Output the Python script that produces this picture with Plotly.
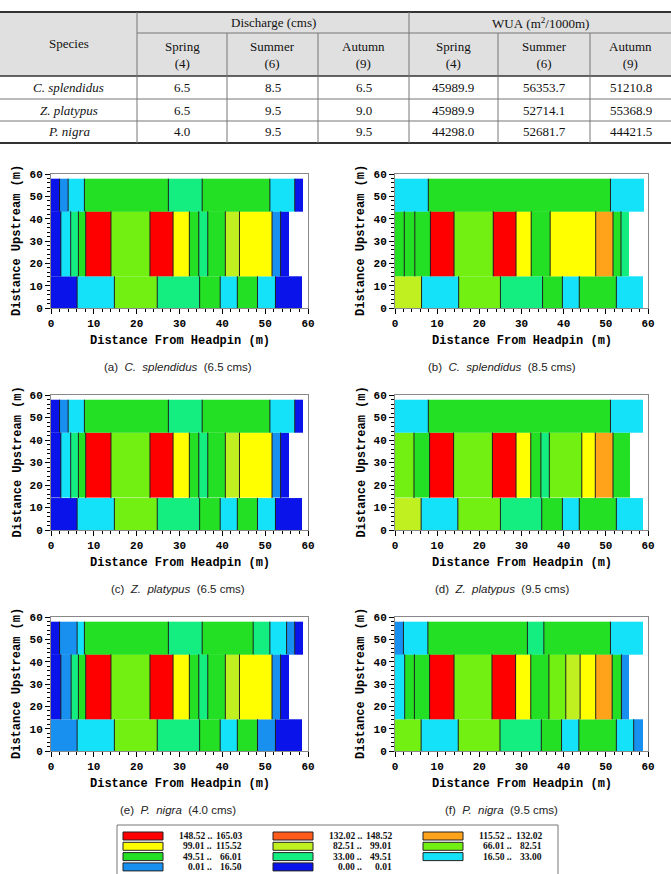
import plotly.graph_objects as go

W, H = 671, 874


def px(x):
    return x / W


def py(y):
    return 1 - y / H


# ---------------- table data ----------------
species = ["C. splendidus", "Z. platypus", "P. nigra"]
seasons = ["Spring", "Summer", "Autumn"]
months = ["(4)", "(6)", "(9)"]
discharge = [[6.5, 8.5, 6.5], [6.5, 9.5, 9.0], [4.0, 9.5, 9.5]]
wua = [[45989.9, 56353.7, 51210.8], [45989.9, 52714.1, 55368.9], [44298.0, 52681.7, 44421.5]]

# ---------------- legend classes (index 0 = lowest) ----------------
class_lo = ["0.00", "0.01", "16.50", "33.00", "49.51", "66.01", "82.51", "99.01", "115.52", "132.02", "148.52"]
class_hi = ["0.01", "16.50", "33.00", "49.51", "66.01", "82.51", "99.01", "115.52", "132.02", "148.52", "165.03"]
class_colors = ["#0a14ea", "#1890f0", "#14e2f8", "#14ee80", "#24e024", "#72f012",
                "#c0f020", "#ffff00", "#ffa31a", "#ff5b1c", "#ff0000"]

# ---------------- cross-section bands (y, m) ----------------
band_y = [0, 14.2, 43.3, 57.9]

# panel (a) C. splendidus 6.5 cms
a_bot_x = [0, 6.1, 14.8, 24.8, 34.7, 39.5, 43.5, 48.2, 52.4, 58.7]
a_bot_c = [0, 2, 5, 3, 4, 2, 4, 2, 0]
a_mid_x = [0, 2.3, 4.6, 6.4, 8.1, 14.0, 23.1, 28.5, 32.3, 34.5, 36.6, 40.7, 44.0, 51.6, 53.6, 55.6]
a_mid_c = [0, 2, 3, 4, 10, 5, 10, 7, 4, 3, 4, 6, 7, 1, 0]
a_top_x = [0, 2.0, 4.0, 7.8, 27.4, 35.3, 51.1, 56.9, 58.9]
a_top_c = [0, 1, 2, 4, 3, 4, 2, 0]

# panel (b) C. splendidus 8.5 cms
b_bot_x = [0, 6.3, 15.1, 25.0, 35.0, 39.7, 43.7, 52.5, 58.8]
b_bot_c = [6, 2, 5, 3, 4, 2, 4, 2]
b_mid_x = [0, 2.2, 4.7, 8.4, 14.0, 23.3, 28.7, 32.3, 36.8, 47.6, 51.7, 53.6, 55.6]
b_mid_c = [4, 4, 4, 10, 5, 10, 7, 4, 7, 8, 4, 3]
b_top_x = [0, 7.9, 51.1, 59.0]
b_top_c = [2, 4, 2]

# panel (c) Z. platypus 6.5 cms
c_bot_x = [0, 6.1, 14.8, 24.8, 34.7, 39.5, 43.5, 48.2, 52.4, 58.7]
c_bot_c = [0, 2, 5, 3, 4, 2, 4, 2, 0]
c_mid_x = [0, 2.3, 4.6, 6.4, 8.1, 14.0, 23.1, 28.5, 32.3, 34.5, 36.6, 40.7, 44.0, 51.6, 53.6, 55.6]
c_mid_c = [0, 2, 3, 4, 10, 5, 10, 7, 4, 3, 4, 6, 7, 1, 0]
c_top_x = [0, 2.0, 4.0, 7.8, 27.4, 35.3, 51.1, 56.9, 58.9]
c_top_c = [0, 1, 2, 4, 3, 4, 2, 0]

# panel (d) Z. platypus 9.5 cms
d_bot_x = [0, 6.2, 14.9, 25.0, 34.8, 39.7, 43.7, 52.5, 58.8]
d_bot_c = [6, 2, 5, 3, 4, 2, 4, 2]
d_mid_x = [0, 4.5, 8.2, 13.9, 23.1, 28.7, 32.2, 34.6, 36.6, 44.3, 47.5, 51.7, 55.7]
d_mid_c = [5, 4, 10, 5, 10, 7, 4, 3, 5, 7, 8, 4]
d_top_x = [0, 7.9, 51.1, 58.8]
d_top_c = [2, 4, 2]

# panel (e) P. nigra 4.0 cms
e_bot_x = [0, 6.1, 14.8, 24.8, 34.7, 39.5, 43.5, 48.2, 52.4, 58.7]
e_bot_c = [1, 2, 5, 3, 4, 2, 4, 1, 0]
e_mid_x = [0, 2.3, 4.7, 6.4, 8.1, 14.0, 23.1, 28.5, 32.3, 34.5, 36.6, 40.7, 44.0, 51.6, 53.6, 55.6]
e_mid_c = [0, 1, 3, 4, 10, 5, 10, 7, 4, 3, 4, 6, 7, 1, 0]
e_top_x = [0, 2.0, 6.1, 7.8, 27.4, 35.3, 47.2, 51.1, 55.0, 56.9, 58.9]
e_top_c = [0, 1, 2, 4, 3, 4, 3, 2, 1, 0]

# panel (f) P. nigra 9.5 cms
f_bot_x = [0, 6.2, 15.0, 24.9, 34.7, 39.5, 43.6, 52.5, 56.6, 58.8]
f_bot_c = [5, 2, 5, 3, 4, 2, 4, 2, 1]
f_mid_x = [0, 2.3, 4.6, 8.2, 14.0, 23.0, 28.6, 32.2, 36.5, 40.5, 43.9, 47.6, 51.5, 53.7, 55.6]
f_mid_c = [2, 4, 4, 10, 5, 10, 7, 4, 5, 6, 7, 8, 4, 1]
f_top_x = [0, 2.0, 7.8, 31.4, 35.3, 51.1, 58.8]
f_top_c = [1, 2, 4, 3, 4, 2]

panel_letters = ["a", "b", "c", "d", "e", "f"]
panel_species = ["C. splendidus", "C. splendidus", "Z. platypus", "Z. platypus", "P. nigra", "P. nigra"]
panel_q = ["6.5", "8.5", "6.5", "9.5", "4.0", "9.5"]
panel_bands = [
    [(a_bot_x, a_bot_c), (a_mid_x, a_mid_c), (a_top_x, a_top_c)],
    [(b_bot_x, b_bot_c), (b_mid_x, b_mid_c), (b_top_x, b_top_c)],
    [(c_bot_x, c_bot_c), (c_mid_x, c_mid_c), (c_top_x, c_top_c)],
    [(d_bot_x, d_bot_c), (d_mid_x, d_mid_c), (d_top_x, d_top_c)],
    [(e_bot_x, e_bot_c), (e_mid_x, e_mid_c), (e_top_x, e_top_c)],
    [(f_bot_x, f_bot_c), (f_mid_x, f_mid_c), (f_top_x, f_top_c)],
]

# ---------------- layout geometry (pixels) ----------------
col_x = [(51, 308), (395, 648)]
row_y = [(174, 308), (395, 530), (617, 751)]

n = len(class_colors)
cscale = []
for i, c in enumerate(class_colors):
    cscale.append([i / n, c])
    cscale.append([(i + 1) / n, c])

fig = go.Figure()
annotations = []
shapes = []


def note(text, x, y, font, **kw):
    d = dict(text=text, x=px(x), y=py(y), xref="paper", yref="paper", showarrow=False,
             xanchor="center", yanchor="middle", font=font)
    d.update(kw)
    annotations.append(d)


AX_FONT = dict(family="Liberation Mono", size=11, color="black", weight="bold")
TITLE_FONT = dict(family="Liberation Mono", size=12, color="black", weight="bold")

for k in range(6):
    r, cidx = divmod(k, 2)
    xa = "x" if k == 0 else f"x{k+1}"
    ya = "y" if k == 0 else f"y{k+1}"
    lx, ly = [], []
    for b, (edges, cls) in enumerate(panel_bands[k]):
        y0, y1 = band_y[b], band_y[b + 1]
        fig.add_trace(go.Heatmap(
            x=edges, y=[y0, y1], z=[cls], colorscale=cscale,
            zmin=-0.5, zmax=n - 0.5, showscale=False, hoverinfo="skip",
            xaxis=xa, yaxis=ya))
        for e in edges[1:-1]:
            lx += [e, e, None]
            ly += [y0, y1, None]
    fig.add_trace(go.Scatter(x=lx, y=ly, mode="lines", line=dict(color="#202020", width=1),
                             hoverinfo="skip", showlegend=False, xaxis=xa, yaxis=ya))
    x0p, x1p = col_x[cidx]
    y0p, y1p = row_y[r]
    sfx = "" if k == 0 else str(k + 1)
    common = dict(range=[0, 60], dtick=10, tick0=0,
                  ticks="outside", ticklen=5, tickcolor="black", showline=True, linecolor="#888",
                  mirror=True, showgrid=False, zeroline=False, tickfont=AX_FONT,
                  fixedrange=True, automargin=False,
                  minor=dict(dtick=2, ticklen=3, ticks="outside", tickcolor="black"))
    fig.layout["xaxis" + sfx] = dict(domain=[px(x0p), px(x1p)], anchor=ya, **common)
    fig.layout["yaxis" + sfx] = dict(domain=[py(y1p), py(y0p)], anchor=xa, **common)
    note("Distance From Headpin (m)", (x0p + x1p) / 2, y1p + 33, TITLE_FONT)
    note("Distance Upstream (m)", x0p - 34, (y0p + y1p) / 2, TITLE_FONT, textangle=-90)
    nb = "\u00a0"
    cap = (f"({panel_letters[k]}){nb}{nb}<i>{panel_species[k].replace(' ', nb + nb)}</i>"
           f"{nb}{nb}({panel_q[k]}{nb}cms)")
    note(cap, 178 if cidx == 0 else 502, y1p + 59,
         dict(family="Liberation Sans", size=11.5, color="#222"))

# ---------------- table ----------------
T_TOP, T_H1, T_H2, T_R1, T_R2, T_BOT = 12, 33, 76, 99, 121, 143
vcols = [137, 227, 318, 409, 498, 590, 671]
shapes.append(dict(type="rect", xref="paper", yref="paper", x0=0, x1=1, y0=py(T_H2), y1=py(T_TOP),
                   fillcolor="#e0e0e0", line=dict(width=0), layer="below"))
for yy, wdt, colr in [(T_TOP, 2, "#333"), (T_H2, 1.6, "#333"), (T_R1, 1, "#777"), (T_R2, 1, "#777"), (T_BOT, 2, "#333")]:
    shapes.append(dict(type="line", xref="paper", yref="paper", x0=0, x1=1, y0=py(yy), y1=py(yy),
                       line=dict(color=colr, width=wdt)))
shapes.append(dict(type="line", xref="paper", yref="paper", x0=px(vcols[0]), x1=1, y0=py(T_H1), y1=py(T_H1),
                   line=dict(color="#777", width=1)))
for i, xv in enumerate(vcols[:-1]):
    ytop = T_TOP if i in (0, 3) else T_H1
    shapes.append(dict(type="line", xref="paper", yref="paper", x0=px(xv), x1=px(xv), y0=py(ytop), y1=py(T_BOT),
                       line=dict(color="#777", width=1)))

TF = dict(family="Liberation Serif", size=13, color="#111")
note("Species", vcols[0] / 2, (T_TOP + T_H2) / 2, TF)
note("Discharge\u00a0(cms)", (vcols[0] + vcols[3]) / 2, (T_TOP + T_H1) / 2, TF)
note("WUA\u00a0(m<sup>2</sup>/1000m)", (vcols[3] + vcols[6]) / 2, (T_TOP + T_H1) / 2, TF)
for j in range(6):
    cx = (vcols[j] + vcols[j + 1]) / 2
    note(f"{seasons[j % 3]}<br>{months[j % 3]}", cx, (T_H1 + T_H2) / 2, TF)
row_mid = [(T_H2 + T_R1) / 2, (T_R1 + T_R2) / 2, (T_R2 + T_BOT) / 2]
for i, sp in enumerate(species):
    note(f"<i>{sp}</i>", vcols[0] / 2, row_mid[i], TF)
    vals = discharge[i] + wua[i]
    for j, v in enumerate(vals):
        note(f"{v:.1f}", (vcols[j] + vcols[j + 1]) / 2, row_mid[i], TF)

# ---------------- legend box ----------------
shapes.append(dict(type="rect", xref="paper", yref="paper", x0=px(117), x1=px(558), y0=py(880), y1=py(825),
                   line=dict(color="#777", width=1), fillcolor="white"))
LF = dict(family="Liberation Serif", size=9.5, color="#111", weight="bold")
order = list(range(n - 1, -1, -1))
for idx, ci in enumerate(order):
    rr, cc = divmod(idx, 3)
    sx = 123 + 150 * cc
    yc = 836 + 10.3 * rr
    shapes.append(dict(type="rect", xref="paper", yref="paper", x0=px(sx), x1=px(sx + 40),
                       y0=py(yc + 4), y1=py(yc - 4), fillcolor=class_colors[ci],
                       line=dict(color="#222", width=1)))
    note(f"{class_lo[ci]}\u00a0..", sx + 91, yc, LF, xanchor="right")
    note(class_hi[ci], sx + 121, yc, LF, xanchor="right")

fig.update_layout(width=W, height=H, margin=dict(l=0, r=0, t=0, b=0), paper_bgcolor="white",
                  plot_bgcolor="white", showlegend=False, annotations=annotations, shapes=shapes)
fig.write_html("out.html")
